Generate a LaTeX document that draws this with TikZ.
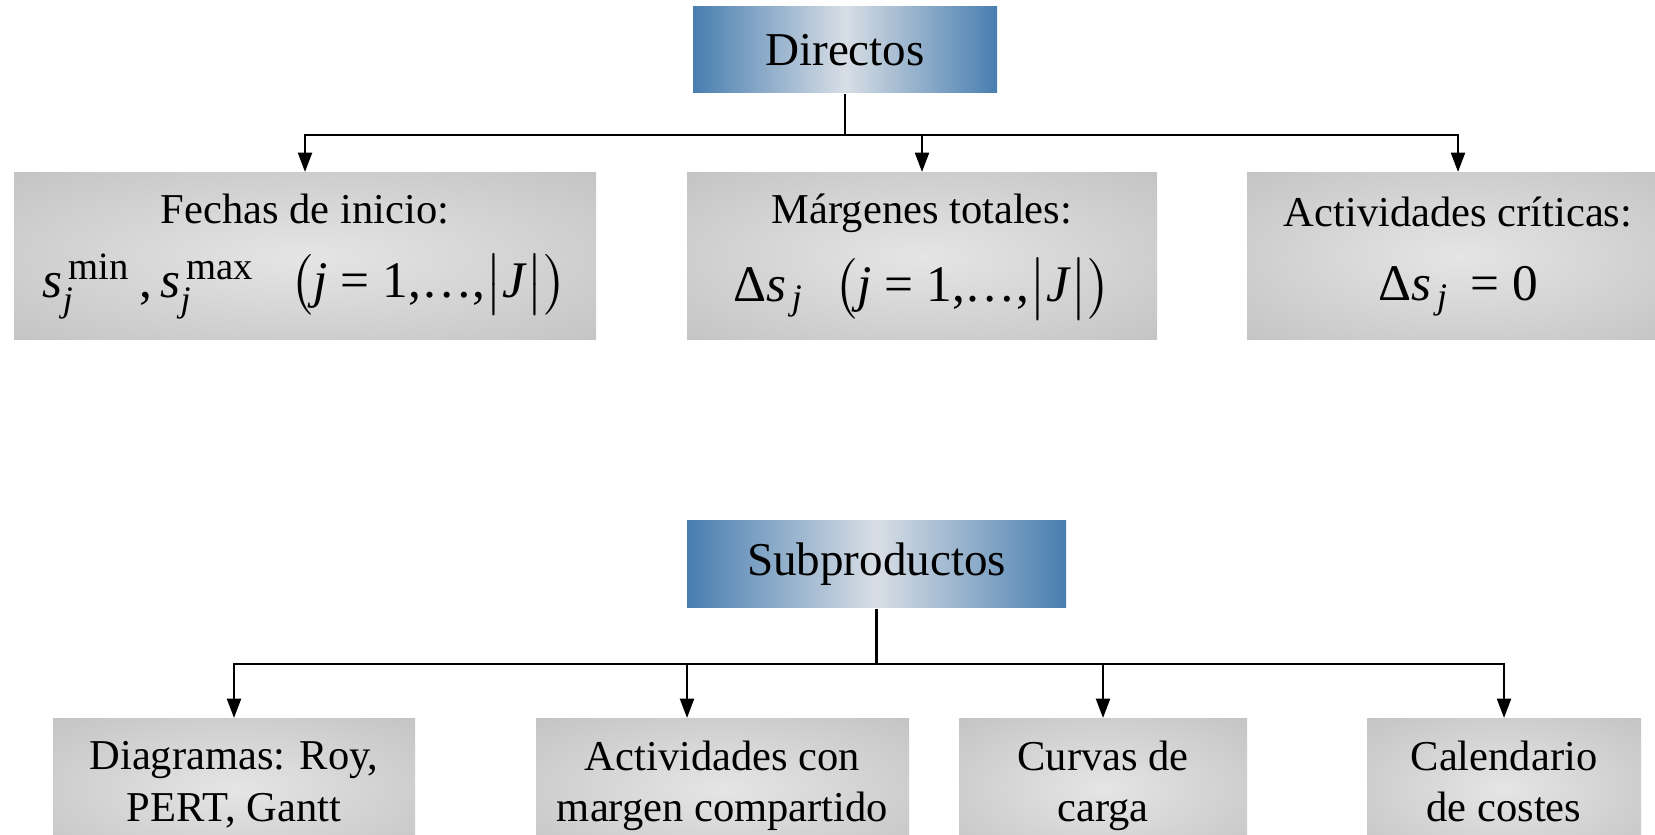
\documentclass[tikz,border=0pt]{standalone}
\usepackage{amsmath}
\usepackage{fontspec}
\setmainfont{Liberation Serif}
\usetikzlibrary{arrows.meta}
\definecolor{headblue}{RGB}{72,126,176}
\definecolor{headmid}{RGB}{216,222,229}
\definecolor{boxin}{RGB}{229,229,229}
\definecolor{boxout}{RGB}{178,178,178}
\pgfdeclareradialshading{grayglow}{\pgfpointorigin}{color(0bp)=(boxin); color(55bp)=(boxout); color(75bp)=(boxout)}
\newcommand{\mathline}{\fontsize{14.6}{16}\selectfont}
\newcommand{\sj}{\textit{s}$_{\,\textit{j}}$}
\newcommand{\sjup}[1]{\textit{s}$_{\textit{j}}^{\,\text{\fontsize{11}{11}\selectfont #1}}$}
\newcommand{\jrange}{$\bigl($\textit{j} = 1,…,$\bigl|$\textit{J}$\bigr|\bigr)$}

\begin{document}
\begin{tikzpicture}[>={Triangle[length=5.5pt,width=4pt]}, semithick]
\tikzstyle{head}=[shape=rectangle, left color=headblue, right color=headblue,
                    middle color=headmid, inner sep=0pt, minimum height=0.86cm,
                    font=\fontsize{13.4}{16}\selectfont]
\tikzstyle{leaf}=[shape=rectangle, shading=grayglow, inner sep=0pt,
                    align=center, font=\fontsize{12.1}{14.6}\selectfont,
                    execute at end node=\strut]
  \useasboundingbox (0,0) rectangle (16.55,8.35);
  % directos
  \node[head, minimum width=3.04cm] (dir) at (8.45,7.85) {Directos};
  \node[leaf, minimum width=5.82cm, minimum height=1.67cm] (fi) at (3.05,5.785)
    {Fechas de inicio:\\[6.5pt]
     \mathline \sjup{min}\,,\,\sjup{max}\hspace{0.7em}\jrange};
  \node[leaf, minimum width=4.70cm, minimum height=1.67cm] (mt) at (9.22,5.785)
    {Márgenes totales:\\[6.5pt]
     \mathline Δ\sj\hspace{0.6em}\jrange};
  \node[leaf, minimum width=4.22cm, minimum height=1.67cm] (ac) at (14.58,5.785)
    {Actividades críticas:\\[6.5pt]
     \mathline Δ\sj\ \,= 0};
  \coordinate (dirbus) at ([yshift=-4.1mm]dir.south);
  \draw (dir.south) -- (dirbus);
  \draw[->] (dirbus) -| (fi.north);
  \draw[->] (dirbus) -| (mt.north);
  \draw[->] (dirbus) -| (ac.north);
  % subproductos
  \node[head, minimum width=3.79cm, minimum height=0.87cm] (sub) at (8.765,2.705) {Subproductos};
  \node[leaf, minimum width=3.62cm, minimum height=1.40cm] (dg) at (2.34,0.46)
    {Diagramas: Roy,\\PERT, Gantt};
  \node[leaf, minimum width=3.73cm, minimum height=1.40cm] (mc) at (7.225,0.46)
    {Actividades con\\margen compartido};
  \node[leaf, minimum width=2.88cm, minimum height=1.40cm] (cc) at (11.03,0.46)
    {Curvas de\\carga};
  \node[leaf, minimum width=2.74cm, minimum height=1.40cm] (cal) at (15.04,0.46)
    {Calendario\\de costes};
  \coordinate (subbus) at ([yshift=-5.5mm]sub.south);
  \draw (sub.south) -- (subbus);
  \draw[->] (subbus) -| (dg.north);
  \draw[->] (subbus) -| ([xshift=-3.55mm]mc.north);
  \draw[->] (subbus) -| (cc.north);
  \draw[->] (subbus) -| (cal.north);
\end{tikzpicture}
\end{document}
